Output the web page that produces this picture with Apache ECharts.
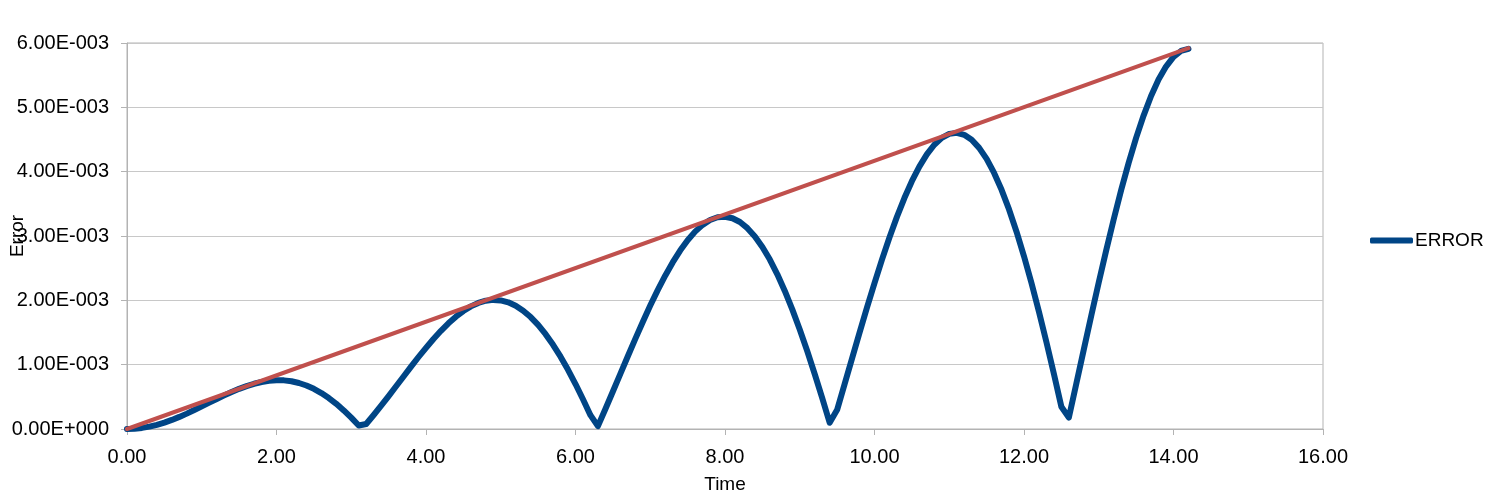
<!DOCTYPE html>
<html>
<head>
<meta charset="utf-8">
<script src="https://cdn.jsdelivr.net/npm/echarts@6/dist/echarts.min.js"></script>
<style>
html,body{margin:0;padding:0;background:#fff;}
#chart{width:1499px;height:499px;}
</style>
</head>
<body>
<div id="chart"></div>
<script>
// Time values (step 0.1 from 0.0 to 14.2)
const times = [
0.0,0.1,0.2,0.3,0.4,0.5,0.6,0.7,0.8,0.9,
1.0,1.1,1.2,1.3,1.4,1.5,1.6,1.7,1.8,1.9,
2.0,2.1,2.2,2.3,2.4,2.5,2.6,2.7,2.8,2.9,
3.0,3.1,3.2,3.3,3.4,3.5,3.6,3.7,3.8,3.9,
4.0,4.1,4.2,4.3,4.4,4.5,4.6,4.7,4.8,4.9,
5.0,5.1,5.2,5.3,5.4,5.5,5.6,5.7,5.8,5.9,
6.0,6.1,6.2,6.3,6.4,6.5,6.6,6.7,6.8,6.9,
7.0,7.1,7.2,7.3,7.4,7.5,7.6,7.7,7.8,7.9,
8.0,8.1,8.2,8.3,8.4,8.5,8.6,8.7,8.8,8.9,
9.0,9.1,9.2,9.3,9.4,9.5,9.6,9.7,9.8,9.9,
10.0,10.1,10.2,10.3,10.4,10.5,10.6,10.7,10.8,10.9,
11.0,11.1,11.2,11.3,11.4,11.5,11.6,11.7,11.8,11.9,
12.0,12.1,12.2,12.3,12.4,12.5,12.6,12.7,12.8,12.9,
13.0,13.1,13.2,13.3,13.4,13.5,13.6,13.7,13.8,13.9,
14.0,14.1,14.2
];
// ERROR values, in units of 1E-003
const errorValues = [
0.000,0.004,0.017,0.037,0.065,0.100,0.141,0.188,0.239,0.294,
0.351,0.409,0.466,0.522,0.575,0.624,0.667,0.703,0.731,0.750,
0.758,0.756,0.742,0.715,0.676,0.624,0.559,0.481,0.391,0.289,
0.177,0.054,0.078,0.217,0.362,0.512,0.664,0.817,0.970,1.119,
1.262,1.399,1.526,1.643,1.746,1.834,1.906,1.960,1.994,2.007,
1.999,1.969,1.916,1.839,1.740,1.618,1.474,1.309,1.124,0.920,
0.699,0.463,0.215,0.044,0.311,0.583,0.857,1.131,1.401,1.664,
1.918,2.158,2.383,2.589,2.773,2.934,3.068,3.173,3.248,3.291,
3.300,3.276,3.217,3.122,2.993,2.830,2.634,2.405,2.146,1.859,
1.547,1.211,0.855,0.483,0.097,0.298,0.698,1.099,1.498,1.889,
2.269,2.633,2.977,3.297,3.590,3.852,4.079,4.268,4.418,4.525,
4.587,4.603,4.573,4.495,4.370,4.198,3.980,3.718,3.413,3.067,
2.685,2.269,1.823,1.350,0.856,0.346,0.177,0.706,1.236,1.762,
2.278,2.779,3.259,3.714,4.137,4.525,4.872,5.176,5.431,5.634,
5.783,5.876,5.910
];
// Trend line end points (time, value in 1E-003)
const trendTimes = [0.0, 14.2];
const trendValues = [0.0, 5.92];
const SCALE = 1e-3;

function sci(v){
  if (Math.abs(v) < 1e-12) return '0.00E+000';
  let e = Math.floor(Math.log10(Math.abs(v)) + 1e-9);
  let m = v / Math.pow(10, e);
  if (Math.abs(m) >= 9.995) { m /= 10; e += 1; }
  const sign = e < 0 ? '-' : '+';
  return m.toFixed(2) + 'E' + sign + String(Math.abs(e)).padStart(3, '0');
}

const chart = echarts.init(document.getElementById('chart'));
const font = '"Liberation Sans", Arial, sans-serif';
chart.setOption({
  animation: false,
  backgroundColor: '#ffffff',
  grid: {
    left: 127, right: 176, top: 43, bottom: 70,
    containLabel: false,
    outerBoundsMode: 'none',
    show: true, borderColor: '#b3b3b3', borderWidth: 1
  },
  legend: {
    data: ['ERROR'],
    orient: 'vertical',
    left: 1370, top: 231,
    padding: 0,
    icon: 'roundRect',
    itemWidth: 43, itemHeight: 6,
    itemGap: 4,
    textStyle: { fontFamily: font, fontSize: 19, color: '#000', padding: [0,0,0,-3] }
  },
  xAxis: {
    type: 'value',
    min: 0, max: 16, interval: 2,
    name: 'Time',
    nameLocation: 'middle',
    nameGap: 46,
    nameMoveOverlap: false,
    nameTextStyle: { fontFamily: font, fontSize: 19, color: '#000' },
    axisLine: { show: true, lineStyle: { color: '#b3b3b3', width: 1 } },
    axisTick: { show: true, length: 6, inside: false, lineStyle: { color: '#b3b3b3' } },
    splitLine: { show: false },
    axisLabel: {
      fontFamily: font, fontSize: 20, color: '#000', margin: 18,
      formatter: v => v.toFixed(2)
    }
  },
  yAxis: {
    type: 'value',
    min: 0, max: 6e-3, interval: 1e-3,
    name: 'Error',
    nameLocation: 'middle',
    nameGap: 100,
    nameRotate: 90,
    nameMoveOverlap: false,
    nameTextStyle: { fontFamily: font, fontSize: 19, color: '#000' },
    axisLine: { show: true, lineStyle: { color: '#b3b3b3', width: 1 } },
    axisTick: { show: true, length: 6, lineStyle: { color: '#b3b3b3' } },
    splitLine: { show: true, lineStyle: { color: '#c8c8c8', width: 1 } },
    axisLabel: {
      fontFamily: font, fontSize: 20, color: '#000', margin: 18,
      formatter: v => sci(v)
    }
  },
  series: [
    {
      name: 'ERROR',
      type: 'line',
      data: times.map((t, i) => [t, errorValues[i] * SCALE]),
      symbol: 'none',
      smooth: false,
      lineStyle: { color: '#004586', width: 6, cap: 'round', join: 'round' },
      itemStyle: { color: '#004586' },
      z: 2
    },
    {
      name: 'trend',
      type: 'line',
      data: trendTimes.map((t, i) => [t, trendValues[i] * SCALE]),
      symbol: 'none',
      lineStyle: { color: '#c0504d', width: 4, cap: 'round' },
      itemStyle: { color: '#c0504d' },
      z: 3
    }
  ]
});
</script>
</body>
</html>
